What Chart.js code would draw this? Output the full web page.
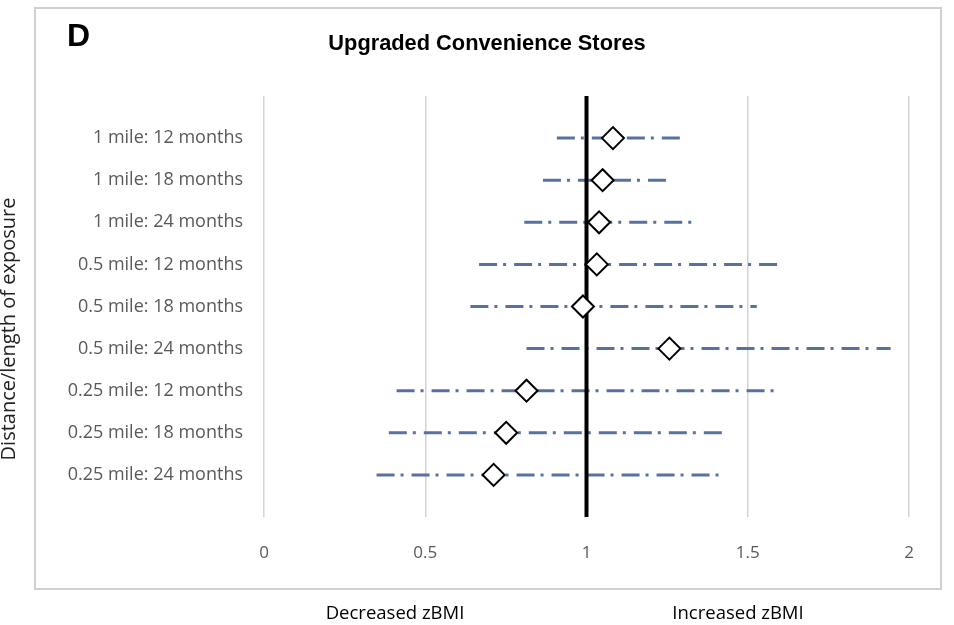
<!DOCTYPE html>
<html>
<head>
<meta charset="utf-8">
<script src="https://cdn.jsdelivr.net/npm/chart.js@4"></script>
<style>
  html, body { margin: 0; padding: 0; background: #fff; }
  #wrap { width: 954px; height: 625px; }
</style>
</head>
<body>
<div id="wrap"><canvas id="forest"></canvas></div>
<script>
// rows, top to bottom
const labels = [
   '1 mile: 12 months', '1 mile: 18 months', '1 mile: 24 months',
   '0.5 mile: 12 months', '0.5 mile: 18 months', '0.5 mile: 24 months',
   '0.25 mile: 12 months', '0.25 mile: 18 months', '0.25 mile: 24 months'
];
const estimate = [1.082, 1.050, 1.039, 1.032, 0.989, 1.257, 0.814, 0.751, 0.712];
const lower    = [0.908, 0.865, 0.807, 0.667, 0.640, 0.814, 0.411, 0.387, 0.349];
const upper    = [1.290, 1.254, 1.335, 1.598, 1.528, 1.943, 1.603, 1.437, 1.428];
const xTicks = [0, 0.5, 1, 1.5, 2];
const xTickLabels = ['0', '0.5', '1', '1.5', '2'];

const rowPos = labels.map((l, i) => i + 1);

const ciSets = labels.map((l, i) => ({
   type: 'line',
   data: [{ x: lower[i], y: rowPos[i] }, { x: upper[i], y: rowPos[i] }],
   borderColor: 'rgb(88,114,160)',
   borderWidth: 3,
   borderDash: [18, 6, 3, 8],
   pointRadius: 0,
   order: 3,
}));

// frame, panel letter and outer texts
const decor = {
   id: 'decor',
   beforeDraw(chart) {
      const c = chart.ctx;
      c.save();
      c.fillStyle = '#fff';
      c.fillRect(0, 0, chart.width, chart.height);
      c.strokeStyle = '#d0d0d0';
      c.lineWidth = 2;
      c.strokeRect(35, 8, 906, 581);
      c.restore();
   },
   afterDraw(chart) {
      const c = chart.ctx;
      c.save();
      c.fillStyle = '#000';
      c.font = 'bold 32px "Liberation Sans", Arial, sans-serif';
      c.textBaseline = 'alphabetic';
      c.fillText('D', 67, 46);
      c.font = 'bold 21.8px "Liberation Sans", Arial, sans-serif';
      c.textAlign = 'center';
      c.fillText('Upgraded Convenience Stores', 487, 50);
      c.font = '18.5px "Open Sans", sans-serif';
      c.fillText('Decreased zBMI', 395, 619);
      c.fillText('Increased zBMI', 738, 619);
      c.font = '20px "Open Sans", sans-serif';
      c.fillStyle = '#222';
      c.translate(15, 329);
      c.rotate(-Math.PI / 2);
      c.fillText('Distance/length of exposure', 0, 0);
      c.restore();
   }
};

new Chart(document.getElementById('forest'), {
   type: 'scatter',
   data: {
      datasets: [
         {
            type: 'line',
            data: [{ x: 1, y: 0 }, { x: 1, y: 10.1 }],
            borderColor: '#000',
            borderWidth: 4,
            pointRadius: 0,
            order: 2,
         },
         ...ciSets,
         {
            data: estimate.map((v, i) => ({ x: v, y: rowPos[i] })),
            pointStyle: 'rectRot',
            pointRadius: 11,
            backgroundColor: '#fff',
            borderColor: '#000',
            borderWidth: 2,
            order: 1,
         },
      ],
   },
   options: {
      responsive: true,
      maintainAspectRatio: false,
      animation: false,
      layout: { padding: { left: 35, right: 45, top: 96, bottom: 58 } },
      plugins: {
         legend: { display: false },
         tooltip: { enabled: false },
      },
      scales: {
         x: {
            type: 'linear',
            min: 0,
            max: 2,
            afterBuildTicks: (axis) => { axis.ticks = xTicks.map(v => ({ value: v })); },
            afterFit: (axis) => { axis.height = 50; },
            grid: { color: '#d4d4d4', lineWidth: 1.5, drawTicks: false },
            border: { display: false },
            ticks: {
               padding: 26,
               color: '#595959',
               font: { family: '"Open Sans", sans-serif', size: 17 },
               callback: (v, i) => xTickLabels[i],
            },
         },
         y: {
            type: 'linear',
            min: 0,
            max: 10,
            reverse: true,
            afterBuildTicks: (axis) => { axis.ticks = rowPos.map(v => ({ value: v })); },
            afterFit: (axis) => { axis.width = 229; },
            grid: { display: false },
            border: { display: false },
            ticks: {
               padding: 13,
               color: '#595959',
               font: { family: '"Open Sans", sans-serif', size: 18 },
               callback: (v) => labels[v - 1],
            },
         },
      },
   },
   plugins: [decor],
});
</script>
</body>
</html>
